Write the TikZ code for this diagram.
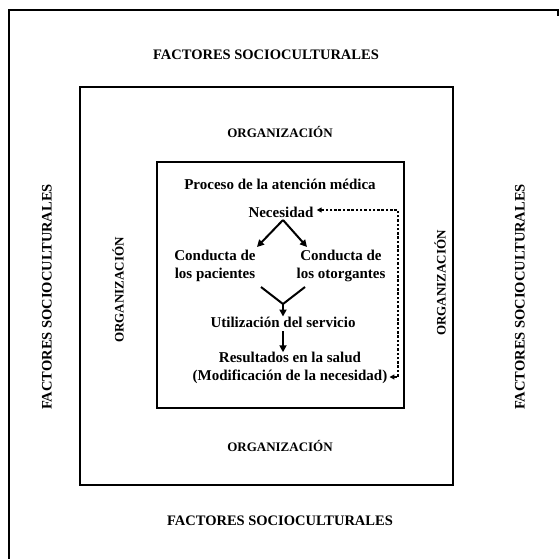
\documentclass[tikz,border=0pt]{standalone}
\usepackage{fontspec}
\setmainfont{Liberation Serif}
\usetikzlibrary{arrows.meta}
\begin{document}
\begin{tikzpicture}[x=1pt,y=-1pt,
  frame/.style={line width=2.5pt},
  fsl/.style={font=\fontsize{14.5}{15}\selectfont\bfseries, inner sep=0pt},
  orgl/.style={font=\fontsize{13}{14}\selectfont\bfseries, inner sep=0pt},
  txt/.style={font=\fontsize{15}{17.5}\selectfont\bfseries, inner sep=0pt, align=center},
  flow/.style={line width=2pt, -{Triangle[length=7pt,width=7pt]}},
  mergeline/.style={line width=2pt},
  back/.style={line width=1.3pt, dashed, dash pattern=on 2.5pt off 1.8pt}]
\useasboundingbox (0,0) rectangle (559,559);

% outer frame (open at the bottom and on the right)
\draw[frame] (558,16) -- (558,10) -- (9,10) -- (9,559);
% organisation frame and process frame
\draw[frame] (80,87) rectangle (453,485);
\draw[frame] (157,162) rectangle (404,408);

% sociocultural factors
\node[fsl] (fsTop) at (266,55) {FACTORES SOCIOCULTURALES};
\node[fsl] (fsBot) at (280,521) {FACTORES SOCIOCULTURALES};
\node[fsl, rotate=90] (fsLeft) at (47,297) {FACTORES SOCIOCULTURALES};
\node[fsl, rotate=90] (fsRight) at (520,297) {FACTORES SOCIOCULTURALES};

% organisation
\node[orgl] (orgTop) at (280,132) {ORGANIZACIÓN};
\node[orgl] (orgBot) at (280,446) {ORGANIZACIÓN};
\node[orgl, rotate=90] (orgLeft) at (118,290) {ORGANIZACIÓN};
\node[orgl, rotate=90] (orgRight) at (440,283) {ORGANIZACIÓN};

% process of medical care
\node[txt] (title) at (280,184) {Proceso de la atención médica};
\node[txt] (nec) at (281,212) {Necesidad};
\node[txt] (pac) at (215,266) {Conducta de\\los pacientes};
\node[txt] (oto) at (341,266) {Conducta de\\los otorgantes};
\node[txt] (uti) at (283,322) {Utilización del servicio};
\node[txt] (res) at (290,368) {Resultados en la salud\\(Modificación de la necesidad)};

% flow of the process
\coordinate (split) at (283,220);
\coordinate (pacIn) at (257,247);
\coordinate (otoIn) at (307,247);
\draw[flow] (split) -- (pacIn);
\draw[flow] (split) -- (otoIn);

\coordinate (pacOut) at (261,287);
\coordinate (otoOut) at (305,287);
\coordinate (merge) at (283,304);
\draw[mergeline] (pacOut) -- (merge) -- (otoOut);
\draw[flow] (merge) -- (uti.north -| merge);
\coordinate (utiOut) at (283,331);
\draw[flow] (utiOut) -- (res.north -| utiOut);

% feedback loop
\coordinate (fbBot) at (398,377);
\coordinate (fbTop) at (398,210);
\draw[back, {Triangle[length=5pt,width=5pt]}-{Triangle[length=5pt,width=5pt]}]
  ([xshift=2pt]res.east |- fbBot) -- (fbBot) -- (fbTop) -- ([xshift=3pt]nec.east |- fbTop);
\end{tikzpicture}
\end{document}
